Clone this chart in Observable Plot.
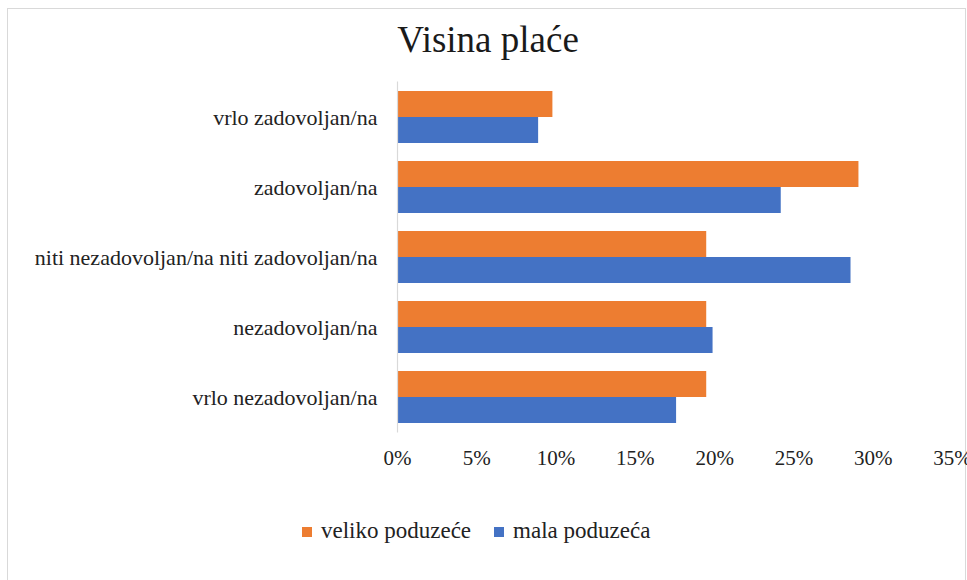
<!DOCTYPE html>
<html><head><meta charset="utf-8">
<script src="https://cdn.jsdelivr.net/npm/d3@7"></script>
<script src="https://cdn.jsdelivr.net/npm/@observablehq/plot@0.6"></script>
<style>
body{margin:0;background:#fff;}
#wrap{position:relative;width:967px;height:580px;overflow:hidden;font-family:"Liberation Serif","Times New Roman",serif;color:#222;}
#border{position:absolute;left:7px;top:8px;width:959px;height:640px;border:1px solid #d9d9d9;box-sizing:border-box;}
#title{position:absolute;left:0;top:21px;width:976px;text-align:center;font-size:37px;line-height:37px;color:#1a1a1a;}
#chart{position:absolute;left:0;top:70px;}
#legend{position:absolute;left:302px;top:519px;display:flex;align-items:flex-start;font-size:23px;line-height:23px;}
.sw{width:10px;height:10px;margin-top:8px;margin-right:9px;}
.item{display:flex;align-items:flex-start;margin-right:23px;}
</style>
</head><body>
<div id="wrap">
  <div id="border"></div>
  <div id="chart"></div>
  <div id="title">Visina plaće</div>
  <div id="legend"></div>
</div>
<script>
const categories = [
  "vrlo zadovoljan/na",
  "zadovoljan/na",
  "niti nezadovoljan/na niti zadovoljan/na",
  "nezadovoljan/na",
  "vrlo nezadovoljan/na"
];
const series = ["veliko poduzeće", "mala poduzeća"];
const velikoValues = [9.8, 29.1, 19.5, 19.5, 19.5];
const malaValues = [8.9, 24.2, 28.6, 19.9, 17.6];
const colors = ["#ED7D31", "#4472C4"];
const xTicks = [0, 5, 10, 15, 20, 25, 30, 35];
const tickLabel = d => d + "%";

const data = categories.flatMap((c, i) => [
  {category: c, series: series[0], value: velikoValues[i]},
  {category: c, series: series[1], value: malaValues[i]}
]);

const chart = Plot.plot({
  width: 967,
  height: 413,
  marginLeft: 397,
  marginRight: 15,
  marginTop: 11,
  marginBottom: 50,
  style: {fontFamily: "'Liberation Serif','Times New Roman',serif", fontSize: "22px", background: "transparent", color: "#222", overflow: "visible"},
  x: {domain: [0, 35]},
  y: {domain: series, padding: 0, axis: null},
  fy: {domain: categories, paddingInner: 0.26, paddingOuter: 0.13, label: null},
  color: {domain: series, range: colors},
  marks: [
    Plot.barX(data, {x: "value", y: "series", fy: "category", fill: "series"}),
    Plot.ruleX([0], {stroke: "#d9d9d9", strokeWidth: 1.2, insetTop: -9.5, insetBottom: -9.5}),
    Plot.axisX({ticks: xTicks, tickFormat: tickLabel, tickSize: 0, tickPadding: 27, fontSize: 21, label: null}),
    Plot.axisFy({anchor: "left", tickSize: 0, tickPadding: 20, fontSize: 22, label: null})
  ]
});
document.getElementById("chart").appendChild(chart);

const legend = document.getElementById("legend");
series.forEach((s, i) => {
  const item = document.createElement("div");
  item.className = "item";
  const sw = document.createElement("div");
  sw.className = "sw";
  sw.style.background = colors[i];
  const t = document.createElement("span");
  t.textContent = s;
  item.appendChild(sw);
  item.appendChild(t);
  legend.appendChild(item);
});
</script>
</body></html>
